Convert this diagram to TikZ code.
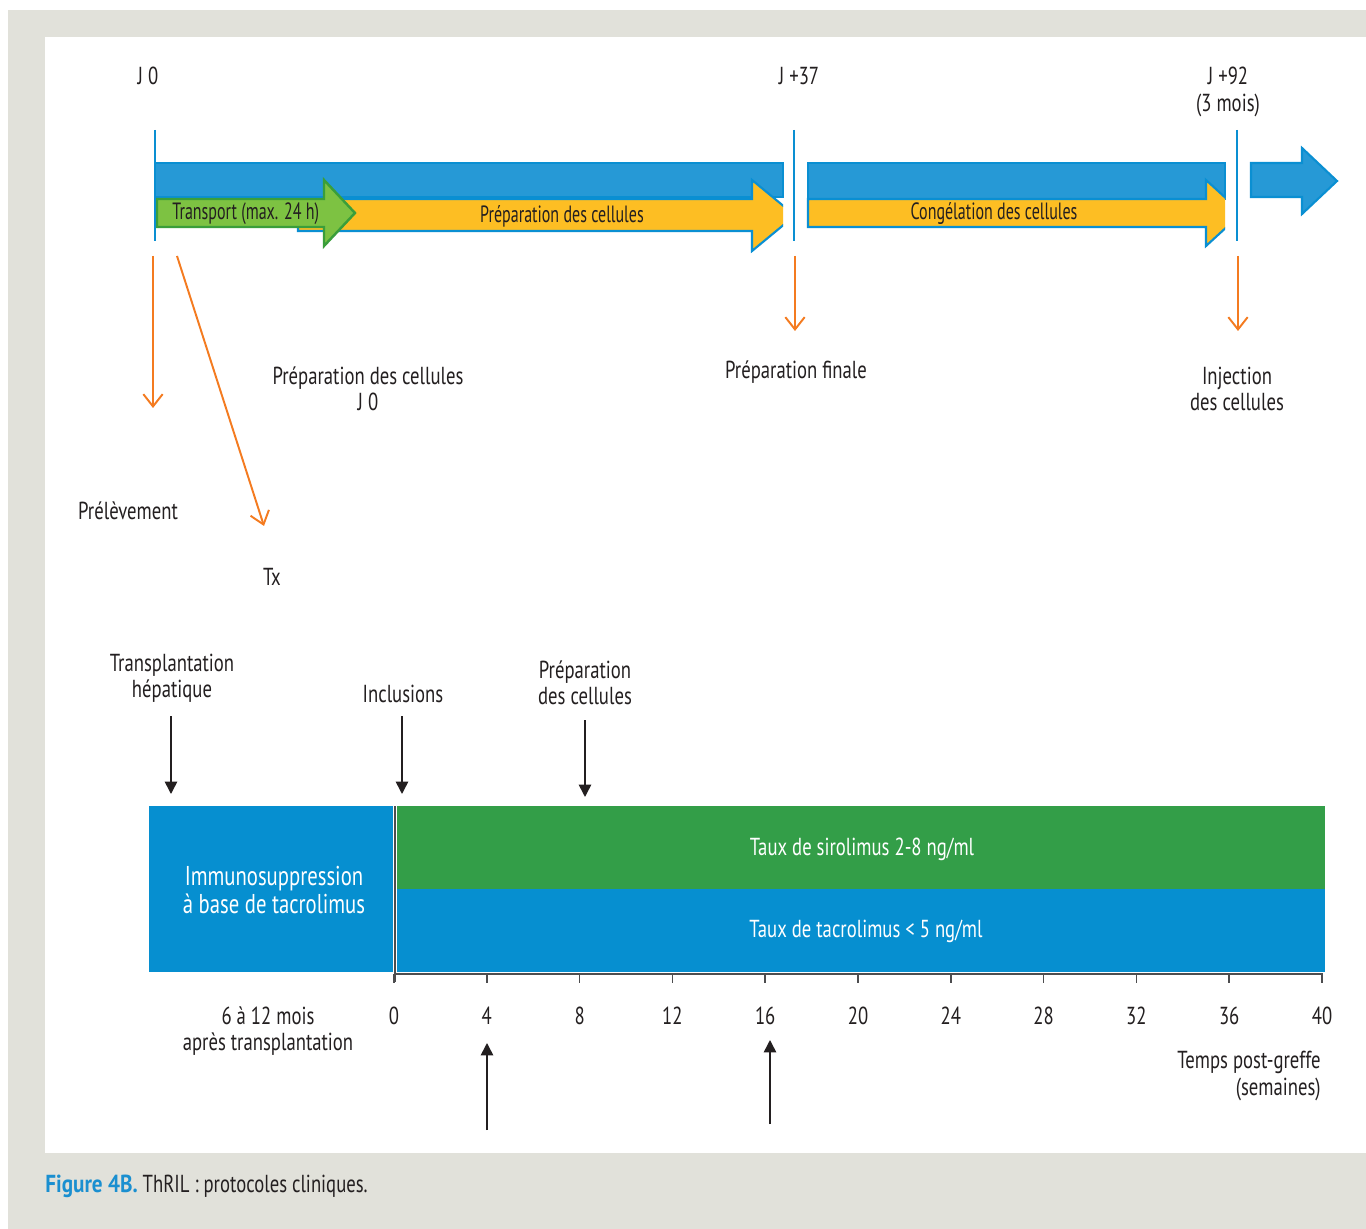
\documentclass[tikz,border=0pt]{standalone}
\usepackage{fontspec}
\setmainfont{PT Sans}[FakeStretch=0.76]
\newfontface\capbf{PT Sans Bold}[FakeStretch=0.86]
\newfontface\narrowf{PT Sans}[FakeStretch=0.68]
\usetikzlibrary{arrows.meta}
\definecolor{bg}{HTML}{E1E1DA}
\definecolor{barblue}{HTML}{2699D6}
\definecolor{barline}{HTML}{0A8FD2}
\definecolor{ylw}{HTML}{FDBE23}
\definecolor{grn}{HTML}{7DC242}
\definecolor{grnline}{HTML}{3A9E3A}
\definecolor{bgreen}{HTML}{339E48}
\definecolor{bblue}{HTML}{068FD0}
\definecolor{orng}{HTML}{F47B20}
\definecolor{txt}{HTML}{231F20}
\definecolor{capblue}{HTML}{1A8FD0}
\definecolor{axisgray}{HTML}{4D4D4F}
\tikzset{
  lbl/.style={text=txt, align=center, inner sep=0pt},
  wlbl/.style={text=white, align=center, inner sep=0pt},
  arrlbl/.style={text=txt, inner sep=0pt, font=\narrowf\fontsize{13.4}{14}\selectfont},
  orarrow/.style={draw=orng, line width=1.1pt, -{Straight Barb[length=7pt,width=11pt,line width=1.1pt]}},
  blkarrow/.style={draw=txt, line width=0.9pt, -{Triangle[length=7pt,width=7pt]}},
  vline/.style={draw=barline, line width=1.4pt},
  bluebar/.style={fill=barblue, draw=barline, line width=1.2pt},
  ylwarrow/.style={fill=ylw, draw=barline, line width=1.2pt},
  grnarrow/.style={fill=grn, draw=grnline, line width=1.4pt},
}
\begin{document}
\begin{tikzpicture}[x=0.02cm, y=-0.02cm, font=\fontsize{14}{15}\selectfont]
\useasboundingbox (0,0) rectangle (1366,1229);
\fill[white] (0,0) rectangle (1366,1229);
\fill[bg] (8,10) rectangle (1366,1229);
\fill[white] (45,37) rectangle (1366,1153);

% ---------- top timeline ----------
\path[bluebar] (155,163) rectangle (783,197);
\begin{scope}
\clip (150,170) rectangle (783,260);
\path[ylwarrow] (298,199) -- (752,199) -- (752,180) -- (795,215.5) -- (752,251) -- (752,231) -- (298,231) -- cycle;
\end{scope}
\path[grnarrow] (157,199) -- (324,199) -- (324,180) -- (355,213) -- (324,246) -- (324,227) -- (157,227) -- cycle;

\path[bluebar] (808,163) rectangle (1225,199);
\begin{scope}
\clip (800,170) rectangle (1225,260);
\path[ylwarrow] (808,199) -- (1206,199) -- (1206,180) -- (1242,213) -- (1206,246) -- (1206,227) -- (808,227) -- cycle;
\end{scope}
\path[bluebar] (1251,163) -- (1302,163) -- (1302,148) -- (1337,181) -- (1302,214) -- (1302,197) -- (1251,197) -- cycle;

\draw[vline] (155,130) -- (155,241);
\draw[vline] (794,130) -- (794,241);
\draw[vline] (1237,130) -- (1237,241);

\node[lbl] (j0) at (148,76) {J 0};
\node[lbl] (j37) at (799,76) {J +37};
\node[lbl] (j92) at (1228,92) {J +92\\(3 mois)};

\node[arrlbl, anchor=west] (transport) at (172,214) {Transport (max. 24 h)};
\node[arrlbl] (prep1) at (562,216) {Préparation des cellules};
\node[arrlbl] (cong) at (994,214) {Congélation des cellules};

% ---------- orange arrows ----------
\coordinate (o1s) at (153,256);
\coordinate (o1e) at (153,408);
\coordinate (o2s) at (177,256);
\coordinate (o2e) at (264,526);
\coordinate (o3s) at (795,256);
\coordinate (o3e) at (795,331);
\coordinate (o4s) at (1238,256);
\coordinate (o4e) at (1238,331);
\draw[orarrow] (o1s) -- (o1e);
\draw[orarrow] (o2s) -- (o2e);
\draw[orarrow] (o3s) -- (o3e);
\draw[orarrow] (o4s) -- (o4e);

\node[lbl] (prepj0) at (368,389) {Préparation des cellules\\J 0};
\node[lbl] (prepfin) at (796,372) {Préparation finale};
\node[lbl] (inject) at (1237,389) {Injection\\des cellules};
\node[lbl] (prelev) at (128,511) {Prélèvement};
\node[lbl] (tx) at (272,577) {Tx};

% ---------- bottom chart ----------
\node[lbl] (transpl) at (172,678) {Transplantation\\hépatique};
\node[lbl] (incl) at (403,694) {Inclusions};
\node[lbl] (prepc) at (585,683) {Préparation\\des cellules};

\coordinate (b1s) at (171,716);
\coordinate (b1e) at (171,794);
\coordinate (b2s) at (402,716);
\coordinate (b2e) at (402,794);
\coordinate (b3s) at (585,720);
\coordinate (b3e) at (585,797);
\draw[blkarrow] (b1s) -- (b1e);
\draw[blkarrow] (b2s) -- (b2e);
\draw[blkarrow] (b3s) -- (b3e);

\fill[bblue] (149,806) rectangle (393,972);
\fill[bgreen] (397,806) rectangle (1325,889);
\fill[bblue] (397,889) rectangle (1325,972);
\draw[axisgray, line width=0.6pt] (395,806) -- (395,982);
\draw[axisgray, line width=1pt] (394,974) -- (1323,974);
\foreach \k in {0,...,10} {
  \draw[axisgray, line width=1pt] ({394+92.8*\k},974) -- ({394+92.8*\k},983);
  \pgfmathtruncatemacro{\wk}{4*\k}
  \node[lbl] (t\k) at ({394+92.8*\k},1016) {\wk};
}

\node[wlbl, font=\fontsize{15.5}{15.5}\selectfont] (immuno) at (274,890) {Immunosuppression\\ à base de tacrolimus};
\node[wlbl] (siro) at (862,849) {Taux de sirolimus 2-8 ng/ml};
\node[wlbl] (tacro) at (866,931) {Taux de tacrolimus < 5 ng/ml};

\node[lbl] (mois) at (268,1031) {6 à 12 mois\\après transplantation};
\node[lbl, anchor=north east, align=right] (temps) at (1321,1051) {Temps post-greffe\\(semaines)};

\coordinate (u1s) at (487,1130);
\coordinate (u1e) at (487,1043);
\coordinate (u2s) at (770,1124);
\coordinate (u2e) at (770,1040);
\draw[blkarrow] (u1s) -- (u1e);
\draw[blkarrow] (u2s) -- (u2e);

% ---------- caption ----------
\node[anchor=base west, inner sep=0pt, text=txt, font=\fontsize{14}{16}\selectfont] (cap) at (45,1192)
  {{\color{capblue}\capbf Figure 4B.} ThRIL : protocoles cliniques.};
\end{tikzpicture}
\end{document}
